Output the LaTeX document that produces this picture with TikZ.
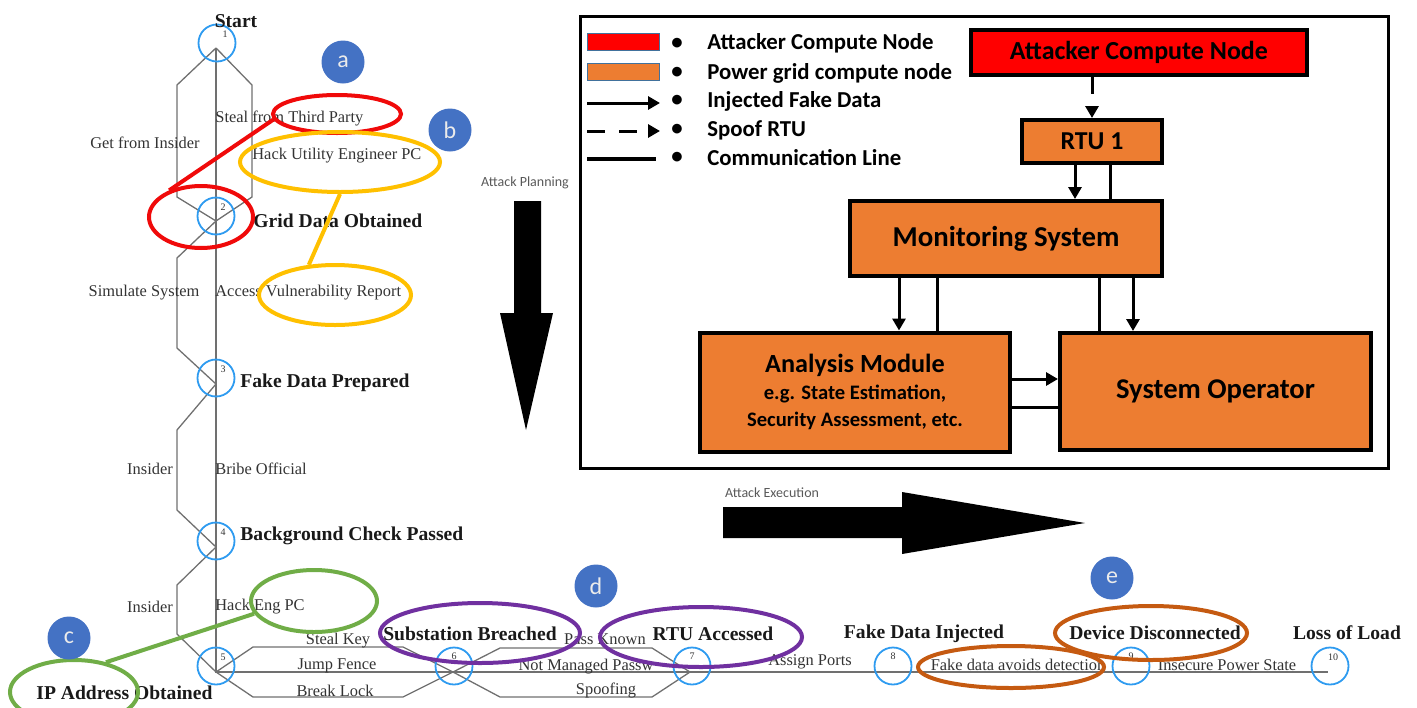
\documentclass[tikz,border=0pt]{standalone}
\usepackage{fontspec}
\setmainfont{Liberation Serif}
\newfontfamily\calibri{Carlito}
\usepackage{tikz}
\usetikzlibrary{shapes,arrows,arrows.meta,positioning,calc}

\definecolor{gridorange}{HTML}{ED7D31}
\definecolor{attackred}{HTML}{FF0000}
\definecolor{stepblue}{HTML}{2E9BF0}
\definecolor{tagblue}{HTML}{4472C4}
\definecolor{treegray}{HTML}{707070}
\definecolor{markred}{HTML}{F00A0A}
\definecolor{markgold}{HTML}{FFC000}
\definecolor{markgreen}{HTML}{70AD47}
\definecolor{markpurple}{HTML}{7030A0}
\definecolor{markbrown}{HTML}{C55A11}
\definecolor{legedge}{HTML}{41719C}

\begin{document}
\begin{tikzpicture}[
        x=0.5pt, y=-0.5pt,
        stepcirc/.style={circle, draw=stepblue, line width=0.9pt, minimum size=18.5pt, inner sep=0pt},
        numtxt/.style={font=\fontsize{5}{5}\selectfont, text=black!80, inner sep=0pt},
        stage/.style={font=\fontsize{9.8}{11}\selectfont\bfseries, text=black!90, inner sep=0pt},
        way/.style={font=\fontsize{8.2}{9}\selectfont, text=black!80, inner sep=0pt},
        treeline/.style={draw=treegray, line width=0.65pt},
        ringmark/.style={ellipse, draw, line width=2pt, inner sep=0pt},
        tie/.style={line width=2pt},
        tag/.style={circle, fill=tagblue, minimum size=21.5pt, inner sep=0pt, text=white!92!black, font=\calibri\fontsize{12}{12}\selectfont},
        block/.style={rectangle, draw, line width=2pt, fill=gridorange, align=center, inner sep=0pt, font=\calibri\bfseries\fontsize{12.9}{15}\selectfont},
        arrow/.style={-{Triangle[length=6pt,width=6.5pt]}, line width=1.5pt},
        link/.style={line width=1.5pt},
        spoof/.style={arrow, dash pattern=on 8.5pt off 6pt},
        legtxt/.style={font=\calibri\bfseries\fontsize{11.4}{13}\selectfont, anchor=west, inner sep=0pt},
        legdot/.style={font=\calibri\bfseries\fontsize{11.4}{13}\selectfont, inner sep=0pt},
        swatch/.style={draw=legedge, line width=0.4pt, minimum width=36pt, minimum height=8.5pt, inner sep=0pt},
        phase/.style={font=\calibri\fontsize{7}{8}\selectfont, text=black!65, inner sep=0pt}
    ]
        \useasboundingbox (0,0) rectangle (1417,707);

        % attack tree: junctions
        \coordinate (j1) at (216,48);
        \coordinate (j2) at (216,221);
        \coordinate (j3) at (216,384);
        \coordinate (j4) at (216,547);
        \coordinate (j5) at (216,672);
        \coordinate (j6) at (453,672);
        \coordinate (j7) at (690,672);
        \coordinate (j10) at (1328,672);

        \draw[treeline] (j1) -- (j5) -- (j10);
        \draw[treeline] (j1) -- (177,85) -- (177,197) -- (j2);
        \draw[treeline] (j1) -- (252,85) -- (252,197) -- (j2);
        \draw[treeline] (j2) -- (177,258) -- (177,348) -- (j3);
        \draw[treeline] (j3) -- (177,430) -- (177,510) -- (j4);
        \draw[treeline] (j4) -- (177,585) -- (177,634) -- (j5);
        \draw[treeline] (j5) -- (253,647) -- (403,647) -- (j6);
        \draw[treeline] (j5) -- (253,697) -- (403,697) -- (j6);
        \draw[treeline] (j6) -- (500,648) -- (652,648) -- (j7);
        \draw[treeline] (j6) -- (500,697) -- (652,697) -- (j7);

        \node[stepcirc] (n1) at (217,43) {};
        \node[stepcirc] (n2) at (216,216) {};
        \node[stepcirc] (n3) at (216,378) {};
        \node[stepcirc] (n4) at (216,541) {};
        \node[stepcirc] (n5) at (216,666) {};
        \node[stepcirc] (n6) at (454,666) {};
        \node[stepcirc] (n7) at (692,666) {};
        \node[stepcirc] (n8) at (893,666) {};
        \node[stepcirc] (n9) at (1131,666) {};
        \node[stepcirc] (n10) at (1330,666) {};
        \node[numtxt] (k1) at ($(n1)+(8,-9)$) {1};
        \node[numtxt] (k2) at ($(n2)+(7,-9)$) {2};
        \node[numtxt] (k3) at ($(n3)+(7,-9)$) {3};
        \node[numtxt] (k4) at ($(n4)+(7,-9)$) {4};
        \node[numtxt] (k5) at ($(n5)+(7,-9)$) {5};
        \node[numtxt] (k6) at ($(n6)+(0,-10)$) {6};
        \node[numtxt] (k7) at ($(n7)+(0,-10)$) {7};
        \node[numtxt] (k8) at ($(n8)+(0,-10)$) {8};
        \node[numtxt] (k9) at ($(n9)+(0,-10)$) {9};
        \node[numtxt] (k10) at ($(n10)+(3,-9)$) {10};

        % states
        \node[stage] (start) at (236,21) {Start};
        \node[stage, anchor=west] (grid) at (253,221) {Grid Data Obtained};
        \node[stage, anchor=west] (prep) at (240,383) {Fake Data Prepared};
        \node[stage, anchor=west] (check) at (240,536) {Background Check Passed};
        \node[stage, anchor=west] (ipaddr) at (36,693) {IP Address Obtained};
        \node[stage] (breach) at (470,634) {Substation Breached};
        \node[stage] (rtuacc) at (713,634) {RTU Accessed};
        \node[stage] (inject) at (924,634) {Fake Data Injected};
        \node[stage] (discon) at (1155,633) {Device Disconnected};
        \node[stage] (loss) at (1347,633) {Loss of Load};

        % attack steps
        \node[way] (w1a) at (145,143) {Get from Insider};
        \node[way, anchor=west] (w1b) at (215,118) {Steal from Third Party};
        \node[way, anchor=west] (w1c) at (252,156) {Hack Utility Engineer PC};
        \node[way] (w2a) at (144,293) {Simulate System};
        \node[way, anchor=west] (w2b) at (215,293) {Access Vulnerability Report};
        \node[way] (w3a) at (150,469) {Insider};
        \node[way, anchor=west] (w3b) at (215,469) {Bribe Official};
        \node[way] (w4a) at (150,607) {Insider};
        \node[way, anchor=west] (w4b) at (215,607) {Hack Eng PC};
        \node[way] (w5a) at (338,641) {Steal Key};
        \node[way] (w5b) at (337,666) {Jump Fence};
        \node[way] (w5c) at (335,691) {Break Lock};
        \node[way] (w6a) at (605,639) {Pass Known};
        \node[way] (w6b) at (586,667) {Not Managed Passw};
        \node[way] (w6c) at (606,690) {Spoofing};
        \node[way] (w7) at (810,662) {Assign Ports};
        \node[way] (w8) at (1018,665) {Fake data avoids detection};
        \node[way] (w9) at (1227,665) {Insecure Power State};

        % highlight rings
        \node[ringmark, draw=markred, minimum width=64pt, minimum height=19pt] (ra1) at (337,114) {};
        \node[ringmark, draw=markred, minimum width=52pt, minimum height=31pt] (ra2) at (201,217) {};
        \draw[tie, markred] (ra1.185) -- (ra2.140);
        \node[ringmark, draw=markgold, minimum width=100pt, minimum height=30pt] (rb1) at (340,162) {};
        \node[ringmark, draw=markgold, minimum width=76pt, minimum height=30pt] (rb2) at (335,295) {};
        \draw[tie, markgold] (rb1.south) -- (rb2.131);
        \node[ringmark, draw=markgreen, minimum width=63pt, minimum height=31pt] (rc1) at (314,601) {};
        \node[ringmark, draw=markgreen, minimum width=64pt, minimum height=32pt] (rc2) at (74,692) {};
        \draw[tie, markgreen] (rc1.192) -- (rc2.43);
        \node[ringmark, draw=markpurple, minimum width=100pt, minimum height=30pt] (rd1) at (480,633) {};
        \node[ringmark, draw=markpurple, minimum width=101pt, minimum height=30pt] (rd2) at (701,637) {};
        \node[ringmark, draw=markbrown, minimum width=96pt, minimum height=27pt] (re1) at (1151,633) {};
        \node[ringmark, draw=markbrown, minimum width=93pt, minimum height=21pt] (re2) at (1011,667) {};

        \node[tag] (ta) at (343,62) {a};
        \node[tag] (tb) at (450,130) {b};
        \node[tag] (tc) at (69,638) {c};
        \node[tag] (td) at (596,586) {d};
        \node[tag] (te) at (1112,578) {e};

        % phase arrows
        \node[phase] (plan) at (525,183) {Attack Planning};
        \fill (514,201) -- (541,201) -- (541,313) -- (553,313) -- (526,430) -- (500,313) -- (514,313) -- cycle;
        \node[phase] (exec) at (772,493) {Attack Execution};
        \fill (723,507) -- (902,507) -- (902,492) -- (1085,523) -- (902,554) -- (902,538) -- (723,538) -- cycle;

        % system panel
        \draw[line width=1.5pt] (580,16) rectangle (1388,468);

        \node[swatch, fill=attackred] (swa) at (623,41.5) {};
        \node[swatch, fill=gridorange] (swb) at (623,72) {};
        \coordinate (lg3a) at (587,103);
        \coordinate (lg3b) at (660,103);
        \coordinate (lg4a) at (587,131);
        \coordinate (lg4b) at (660,131);
        \coordinate (lg5a) at (587,159);
        \coordinate (lg5b) at (656,159);
        \draw[arrow] (lg3a) -- (lg3b);
        \draw[arrow, dash pattern=on 9pt off 7pt] (lg4a) -- (lg4b);
        \draw[link, line width=1.7pt] (lg5a) -- (lg5b);
        \node[legdot] (d1) at (677,44) {\textbullet};
        \node[legdot] (d2) at (677,73) {\textbullet};
        \node[legdot] (d3) at (677,101) {\textbullet};
        \node[legdot] (d4) at (677,130) {\textbullet};
        \node[legdot] (d5) at (677,158) {\textbullet};
        \node[legtxt] (lt1) at (707,43) {Attacker Compute Node};
        \node[legtxt] (lt2) at (707,73) {Power grid compute node};
        \node[legtxt] (lt3) at (707,101) {Injected Fake Data};
        \node[legtxt] (lt4) at (707,130) {Spoof RTU};
        \node[legtxt] (lt5) at (707,158) {Communication Line};

        \node[block, fill=attackred, minimum width=168pt, minimum height=22.5pt, font=\calibri\bfseries\fontsize{13}{15}\selectfont] (atk) at (1139,52.5) {Attacker Compute Node};
        \node[block, minimum width=70pt, minimum height=21.5pt] (rtu) at (1092,141.5) {RTU 1};
        \node[block, minimum width=156pt, minimum height=37.5pt, font=\calibri\bfseries\fontsize{14.4}{17}\selectfont] (mon) at (1006,238.5) {Monitoring System};
        \node[block, minimum width=155pt, minimum height=59.5pt, font=\calibri\bfseries\fontsize{10.3}{13.5}\selectfont] (ana) at (855,392) {{\fontsize{13.1}{14}\selectfont Analysis Module}\\e.g. State Estimation,\\Security Assessment, etc.};
        \node[block, minimum width=155.5pt, minimum height=58.5pt, font=\calibri\bfseries\fontsize{14.3}{17}\selectfont] (ops) at (1215.5,391.5) {System Operator};

        \draw[spoof] (atk.south -| rtu.north) -- (rtu.north);
        \draw[arrow] ([xshift=-8.5pt]rtu.south) -- ([xshift=-8.5pt]rtu.south |- mon.north);
        \draw[link] ([xshift=9pt]rtu.south) -- ([xshift=9pt]rtu.south |- mon.north);
        \draw[arrow] ([xshift=-53.5pt]mon.south) -- ([xshift=-53.5pt]mon.south |- ana.north);
        \draw[link] ([xshift=-34.5pt]mon.south) -- ([xshift=-34.5pt]mon.south |- ana.north);
        \draw[link] ([xshift=46.5pt]mon.south) -- ([xshift=46.5pt]mon.south |- ops.north);
        \draw[arrow] ([xshift=63.5pt]mon.south) -- ([xshift=63.5pt]mon.south |- ops.north);
        \draw[arrow] ([yshift=6.5pt]ana.east) -- ([yshift=6.5pt]ana.east -| ops.west);
        \draw[link] ([yshift=-7.5pt]ana.east) -- ([yshift=-7.5pt]ana.east -| ops.west);
    \end{tikzpicture}
\end{document}
